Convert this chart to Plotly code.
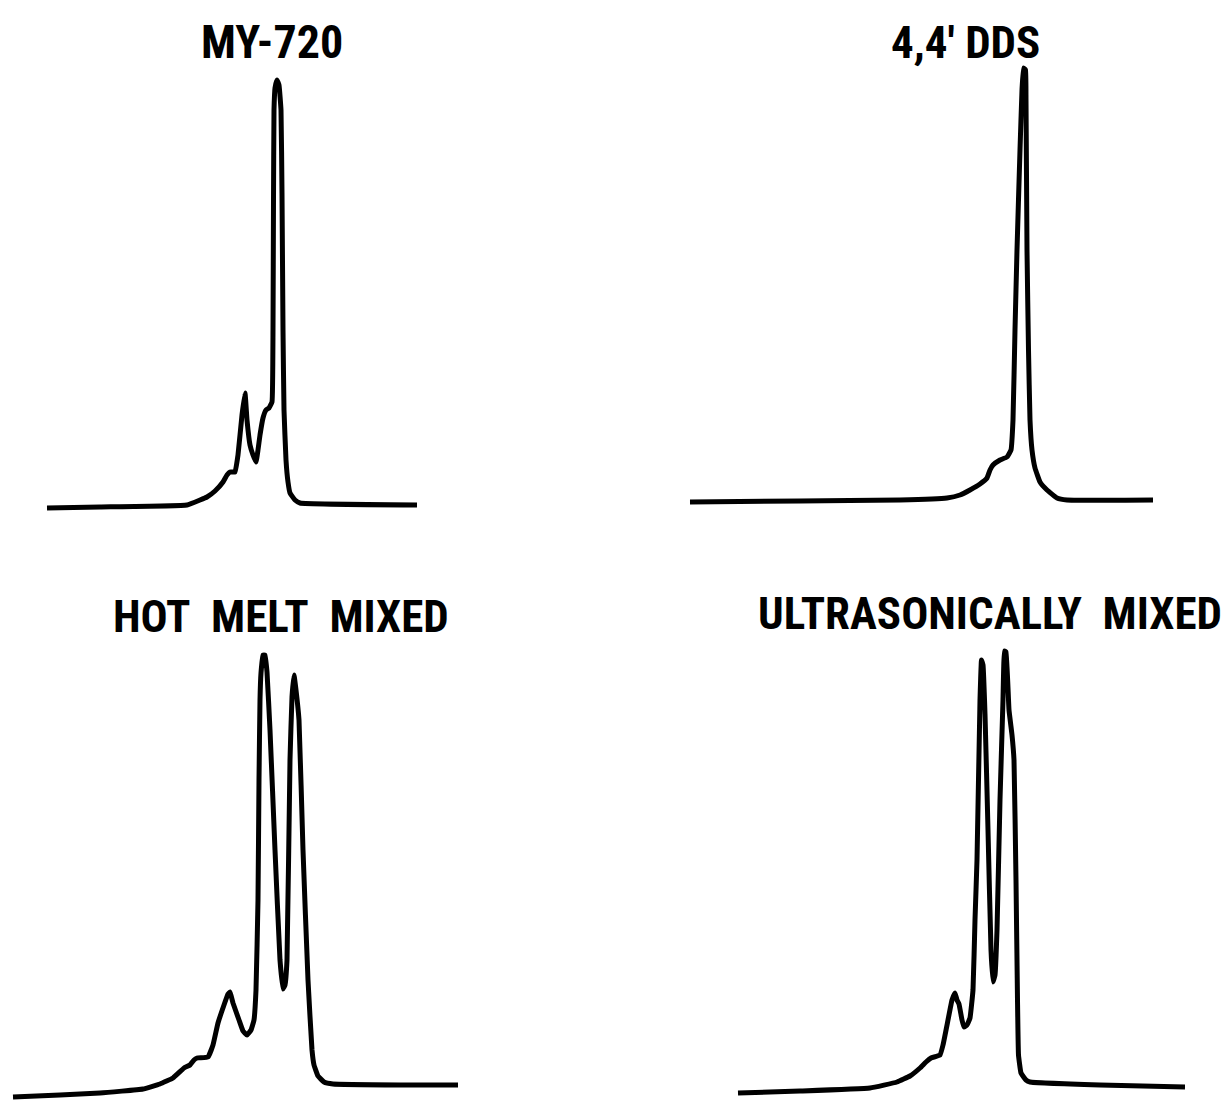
import plotly.graph_objects as go

# ---- data (arbitrary units: elution position, detector response) ----
# Top row response measured from the top-row reference baseline; bottom row likewise.
my720_t = [47, 100, 187, 200, 207, 215, 223, 227, 230, 235, 238, 242, 245, 247, 250, 253, 256, 258,
           260, 263, 266, 269, 272, 273, 273.5, 274, 275, 277, 279, 281, 282, 283, 284, 286, 288,
           290, 295, 300, 417]
my720_r = [-3, -2, 0, 5, 8, 14, 23, 30, 33, 33, 50, 90, 112, 85, 60, 50, 43, 55,
           70, 87, 95, 97, 103, 175, 305, 395, 417, 425, 420, 395, 312, 175, 95, 45, 23,
           12, 5, 2, 0]

dds_t = [690, 800, 900, 947, 960, 970, 980, 987, 990, 993, 1000, 1007, 1011, 1013, 1015, 1017,
         1020, 1022, 1023.5, 1025.5, 1026, 1027, 1028.5, 1030, 1032, 1035, 1040, 1047, 1057,
         1067, 1153]
dds_r = [3, 4, 5, 7, 10, 15, 21, 27, 35, 40, 45, 48, 55, 85, 175, 255,
         355, 415, 437, 435, 405, 255, 155, 85, 55, 37, 23, 15, 7,
         5, 5]

hot_t = [13, 60, 100, 143, 160, 173, 184, 190, 194, 197, 208, 213, 218, 224, 228, 230, 233, 239,
         243, 247, 251, 254, 256, 258, 259, 260, 261, 263, 265, 267, 270, 275, 280, 283, 285, 287,
         290, 292, 294, 296, 299, 303, 308, 312, 314, 318, 324, 333, 400, 458]
hot_r = [-12, -10, -8, -4, 1, 7, 17, 20, 25, 27, 28, 40, 62, 80, 91, 93, 82, 65,
         54, 50, 55, 65, 95, 185, 305, 385, 412, 430, 430, 413, 355, 235, 125, 96, 100, 125,
         325, 388, 410, 395, 365, 235, 105, 35, 20, 9, 3, 1, 0, 0]

ultra_t = [738, 800, 870, 897, 910, 920, 926, 931, 940, 943, 948, 952, 955, 957, 959, 962, 964,
           967, 970, 973, 975, 977, 980, 981.5, 983, 985, 988, 991, 993, 995, 997, 1000, 1003,
           1004.5, 1006, 1009, 1012, 1014, 1016, 1017.5, 1018.5, 1021, 1026, 1030, 1100, 1185]
ultra_r = [-8, -6, -3, 3, 9, 17, 23, 27, 30, 40, 65, 85, 92, 85, 81, 65, 58,
           60, 67, 95, 165, 225, 385, 425, 420, 371, 255, 135, 103, 110, 155, 285, 385,
           434, 433, 375, 350, 325, 205, 85, 30, 12, 5, 3, 0, -2]

titles = ["MY-720", "4,4\u2032&nbsp;DDS", "HOT&nbsp; MELT&nbsp; MIXED", "ULTRASONICALLY&nbsp; MIXED"]

W, H = 1230, 1100
line = dict(color="black", width=5, shape="spline", smoothing=0.3)

fig = go.Figure()
fig.add_trace(go.Scatter(x=my720_t, y=my720_r, mode="lines", line=line, xaxis="x", yaxis="y"))
fig.add_trace(go.Scatter(x=dds_t, y=dds_r, mode="lines", line=line, xaxis="x", yaxis="y"))
fig.add_trace(go.Scatter(x=hot_t, y=hot_r, mode="lines", line=line, xaxis="x2", yaxis="y2"))
fig.add_trace(go.Scatter(x=ultra_t, y=ultra_r, mode="lines", line=line, xaxis="x2", yaxis="y2"))

hidden = dict(visible=False, showgrid=False, zeroline=False, fixedrange=True)
fig.update_layout(
    width=W, height=H,
    margin=dict(l=0, r=0, t=0, b=0),
    paper_bgcolor="white", plot_bgcolor="white",
    showlegend=False,
    xaxis=dict(domain=[0, 1], range=[0, W], anchor="y", **hidden),
    yaxis=dict(domain=[0.5, 1], range=[-45, 505], anchor="x", **hidden),
    xaxis2=dict(domain=[0, 1], range=[0, W], anchor="y2", **hidden),
    yaxis2=dict(domain=[0, 0.5], range=[-15, 535], anchor="x2", **hidden),
)

font_family = "Roboto Condensed, Liberation Sans Narrow, Roboto, sans-serif"
title_pos = [(272, 42, 46), (965, 42, 45), (281, 616, 45), (990, 613, 45)]
for txt, (px, py, fs) in zip(titles, title_pos):
    fig.add_annotation(text="<b>" + txt + "</b>", xref="paper", yref="paper",
                       x=px / W, y=1 - py / H, xanchor="center", yanchor="middle",
                       showarrow=False, font=dict(family=font_family, size=fs, color="black"))

fig.write_html("out.html")
